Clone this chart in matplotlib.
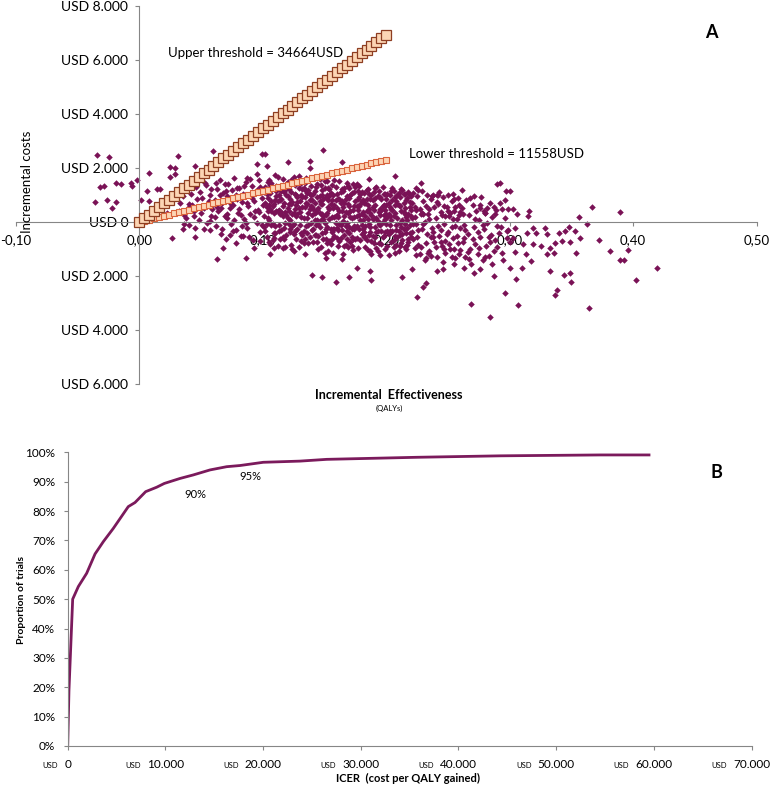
import numpy as np
import matplotlib
matplotlib.use('Agg')
import matplotlib.pyplot as plt
import matplotlib.ticker as ticker

plt.rcParams['font.family'] = ['Lato', 'DejaVu Sans']

# --- panel A: cost-effectiveness plane ---
upper_wtp = 34664   # USD / QALY
lower_wtp = 11558
thr_qaly = np.linspace(0, 0.2, 51)

# sparse points (QALY, USD)
left_pts = [(-0.034,2480),(-0.025,2420),(0.031,2460),(0.008,1830),(-0.029,1330),(-0.032,1300),(-0.015,1400),
            (-0.019,1460),(-0.007,1460),(-0.002,1540),(-0.036,750),(-0.026,800),(-0.019,740),(-0.022,530),
            (-0.006,1330),(0.006,1150),(0.014,1235),(0.017,1235),(0.008,780),(0.001,800),(0.025,2040),
            (0.029,1990),(0.029,1765),(0.025,1670),(0.060,2630),(0.068,2440),(0.045,2070),(0.017,655),
            (0.026,-600),(0.045,-555),(0.063,-1380),(0.086,-1320),(0.068,-950),(0.078,-770),(0.052,-270),
            (0.036,-85),(0.035,-270),(0.022,345),(0.012,345),(0.099,2510),(0.102,2510),(0.095,2140),
            (0.103,2075),(0.087,1640),(0.095,1770),(0.040,655),(0.052,530),(0.044,220),(0.057,40),
            (0.071,160),(0.076,-330),(0.084,-520),(0.093,-950),(0.098,-700),(0.106,-1200),(0.109,-580)]
mid_pts = [(0.149,2655),(0.120,2235),(0.138,2260),(0.164,2235),(0.138,2010),(0.186,1580),(0.207,1705),
           (0.228,1455),(0.224,1270),(0.261,1175),(0.255,840),(0.290,1420),(0.280,345),(0.276,530),
           (0.140,-1975),(0.148,-2035),(0.159,-2210),(0.170,-2035),(0.188,-2160),(0.213,-2035),(0.225,-2780),
           (0.230,-2405),(0.232,-2250),(0.269,-3025),(0.284,-3520),(0.176,-1715),(0.187,-1815),(0.241,-1815),
           (0.246,-1750),(0.221,-1750),(0.255,-1545),(0.263,-1695),(0.276,-1750),(0.287,-2000),(0.271,-1880),
           (0.164,-1380),(0.151,-1320),(0.116,-950),(0.125,-1075),(0.134,-1195)]
right_pts = [(0.367,565),(0.389,380),(0.356,185),(0.363,-85),(0.372,-655),(0.381,-1075),(0.396,-1025),
             (0.389,-1395),(0.393,-1395),(0.419,-1695),(0.402,-2160),(0.364,-3195),(0.307,-3050),(0.337,-2705),
             (0.338,-2495),(0.350,-2210),(0.344,-1975),(0.349,-1880),(0.333,-1815),(0.317,-1445),(0.310,-1715),
             (0.305,-2100),(0.296,-2640),(0.300,-1695),(0.354,-1135),(0.357,-580),(0.353,-335),(0.349,-740),
             (0.342,-705),(0.337,-765),(0.330,-455),(0.340,-395),(0.345,-335),(0.348,-185),(0.319,-235),
             (0.321,-395),(0.329,-235),(0.314,-395),(0.311,-825),(0.319,-825),(0.325,-890),(0.333,-950),
             (0.336,-1135),(0.330,-1195),(0.313,-1175),(0.304,-1100),(0.300,-730),(0.303,-580),(0.298,-335),
             (0.304,-210),(0.315,220),(0.316,405),(0.306,305),(0.296,805),(0.297,1150),(0.300,1150),
             (0.299,470),(0.303,470),(0.292,1455),(0.294,470)]

# dense cloud, estimated (x in 1/1000 QALY, y in USD)
core_pts = [
 (32,420),(35,980),(38,150),(41,1320),(43,640),(45,-210),(47,870),(49,1120),(50,330),(52,560),(53,1450),
 (55,-40),(56,760),(57,1010),(58,240),(59,480),(33,700),(37,1180),(40,-120),(44,390),(46,1290),(48,60),
 (51,900),(54,1380),(57,-280),(60,680),(42,1020),(39,510),(36,260),(58,1220),
 (61,820),(62,-150),(63,1240),(64,390),(65,1560),(66,-430),(67,710),(68,1090),(69,230),(70,-620),(71,960),
 (72,1390),(73,510),(74,-90),(75,1180),(76,640),(77,1620),(78,-310),(79,860),(80,340),(81,1270),(82,-520),
 (83,740),(84,1050),(85,120),(86,1470),(87,-230),(88,590),(89,990),(90,280),(91,1330),(92,-680),(93,770),
 (94,1120),(95,-20),(96,450),(97,1540),(98,-380),(99,900),(100,620),(61,190),(63,560),(65,1010),(67,-260),
 (69,1410),(71,300),(73,-480),(75,830),(77,60),(79,1250),(81,470),(83,-160),(85,1320),(87,710),(89,-550),
 (91,880),(93,180),(95,1190),(97,370),(99,-110),(62,1450),(66,520),(70,1130),(74,680),(78,1000),(82,250),
 (86,-40),(90,1580),(94,410),(98,1290),
 (101,1120),(102,-340),(103,560),(104,1480),(105,90),(106,-820),(107,780),(108,1290),(109,330),(110,-150),
 (111,970),(112,1650),(113,440),(114,-610),(115,1130),(116,210),(117,690),(118,-930),(119,1390),(120,520),
 (121,-70),(122,860),(123,1560),(124,280),(125,-460),(126,1040),(127,620),(128,-240),(129,1270),(130,380),
 (131,-710),(132,910),(133,150),(134,1450),(135,700),(136,-390),(137,1180),(138,480),(139,-20),(140,820),
 (101,240),(103,-560),(104,880),(106,1360),(107,-120),(109,650),(110,1740),(112,-900),(113,1010),(115,-280),
 (116,1590),(118,370),(119,-480),(121,1210),(122,90),(124,750),(125,1670),(127,-640),(128,930),(130,1410),
 (131,180),(133,-330),(134,560),(136,1090),(137,-780),(139,1320),(140,270),(102,710),(105,1540),(108,-670),
 (111,400),(114,1250),(117,-210),(120,980),(123,-840),(126,470),(129,1720),(132,-470),(135,1150),(138,-560),
 (101,-200),(102,1290),(104,410),(105,-720),(107,1460),(108,610),(110,-410),(111,1330),(113,-110),(114,820),
 (116,-540),(117,1110),(119,260),(120,1490),(122,-360),(123,680),(125,-80),(126,1380),(128,310),(129,-930),
 (131,1000),(132,560),(134,-620),(135,1620),(137,350),(138,1050),(140,-310),(103,1030),(106,490),(109,-950),
 (112,770),(115,360),(118,1180),(121,660),(124,-150),(127,1000),(130,-120),(133,1250),(136,150),(139,600),
 (141,1050),(142,-480),(143,380),(144,1420),(145,-90),(146,760),(147,-930),(148,1190),(149,210),(150,-350),
 (151,930),(152,1530),(153,540),(154,-710),(155,1080),(156,170),(157,-1150),(158,640),(159,1310),(160,-220),
 (161,860),(162,420),(163,-590),(164,1220),(165,30),(166,720),(167,-860),(168,1460),(169,330),(170,-410),
 (171,990),(172,150),(173,-1020),(174,610),(175,1280),(176,-160),(177,840),(178,260),(179,-680),(180,1120),
 (141,-260),(142,690),(143,1280),(144,-740),(145,530),(146,1590),(147,90),(148,-420),(149,870),(150,1260),
 (151,-610),(152,340),(153,-1080),(154,960),(155,-270),(156,1380),(157,510),(158,-510),(159,230),(160,1040),
 (161,-870),(162,1500),(163,700),(164,-300),(165,1160),(166,-480),(167,380),(168,-20),(169,1330),(170,590),
 (171,-730),(172,1070),(173,460),(174,-260),(175,790),(176,1400),(177,-950),(178,920),(179,80),(180,-450),
 (141,470),(142,1160),(143,-120),(144,60),(145,-1010),(146,340),(147,1370),(148,650),(149,-640),(150,1510),
 (151,270),(152,-200),(153,810),(154,1240),(155,-830),(156,-380),(157,1010),(158,1570),(159,-40),(160,530),
 (161,180),(162,-690),(163,1120),(164,410),(165,-1200),(166,1260),(167,860),(168,-330),(169,-930),(170,1250),
 (171,420),(172,-550),(173,1390),(174,170),(175,-640),(176,580),(177,1160),(178,-240),(179,680),(180,310),
 (142,90),(144,920),(146,-190),(148,300),(150,-1150),(152,990),(154,130),(156,810),(158,-260),(160,-590),
 (162,860),(164,-40),(166,220),(168,970),(170,-190),(172,-900),(174,1100),(176,-580),(178,1350),(180,-120),
 (181,820),(182,-560),(183,240),(184,1190),(185,-1030),(186,470),(187,-190),(188,990),(189,110),(190,-760),
 (191,630),(192,1280),(193,-340),(194,360),(195,-1220),(196,870),(197,20),(198,-520),(199,1050),(200,280),
 (201,-880),(202,720),(203,-110),(204,1160),(205,430),(206,-650),(207,910),(208,-300),(209,160),(210,-1080),
 (211,590),(212,1220),(213,-450),(214,370),(215,-920),(216,800),(217,60),(218,-610),(219,1010),(220,230),
 (181,-260),(182,690),(183,-920),(184,410),(185,1240),(186,-470),(187,860),(188,-1200),(189,560),(190,1110),
 (191,-200),(192,150),(193,960),(194,-780),(195,500),(196,-320),(197,1300),(198,640),(199,-1010),(200,-90),
 (201,1030),(202,-450),(203,560),(204,-730),(205,1270),(206,210),(207,-1130),(208,760),(209,-560),(210,1090),
 (211,-30),(212,-790),(213,1180),(214,-270),(215,520),(216,-1000),(217,880),(218,310),(219,-390),(220,970),
 (181,370),(182,1080),(183,-130),(184,-650),(185,620),(186,1030),(187,-1060),(188,260),(189,-500),(190,450),
 (191,1250),(192,-960),(193,40),(194,1160),(195,-110),(196,-820),(197,600),(198,250),(199,-380),(200,870),
 (201,180),(202,-1220),(203,1000),(204,90),(205,-330),(206,1150),(207,340),(208,-840),(209,680),(210,-330),
 (211,930),(212,400),(213,-650),(214,1050),(215,-80),(216,190),(217,-850),(218,1120),(219,570),(220,-550),
 (183,690),(187,330),(191,-560),(195,930),(199,460),(203,-340),(207,620),(211,-480),(215,1040),(219,-120),
 (221,720),(222,-640),(223,190),(224,-1230),(225,960),(226,-280),(227,480),(228,-920),(229,1130),(230,-90),
 (231,-1420),(232,610),(233,-460),(234,300),(235,-1060),(236,850),(237,-230),(238,1010),(239,-720),(240,140),
 (241,-1290),(242,670),(243,-520),(244,380),(245,-880),(246,940),(247,-80),(248,-1140),(249,560),(250,-350),
 (251,220),(252,-1010),(253,780),(254,-600),(255,410),(256,-1330),(257,100),(258,-760),(259,640),(260,-210),
 (221,-370),(222,1060),(223,-960),(224,430),(225,-560),(226,1180),(227,-1200),(228,290),(229,-260),(230,780),
 (231,-10),(232,-780),(233,1000),(234,-1150),(235,480),(236,-560),(237,960),(238,-360),(239,550),(240,-940),
 (241,740),(242,-160),(243,1120),(244,-720),(245,260),(246,-1460),(247,600),(248,210),(249,-460),(250,990),
 (251,-800),(252,330),(253,-200),(254,1040),(255,-1000),(256,560),(257,-530),(258,880),(259,-1180),(260,360),
 (223,570),(226,-850),(229,340),(232,-1320),(235,120),(238,-560),(241,1010),(244,-290),(247,-1000),(250,410),
 (253,-1280),(256,-140),(259,270),(224,-60),(230,300),(236,-1250),(242,1000),(248,-700),(254,100),(260,-1030),
 (261,520),(262,-720),(263,-100),(264,-1310),(265,810),(266,-430),(267,260),(268,-980),(269,-1560),(270,630),
 (271,-190),(272,-820),(273,410),(274,-1170),(275,60),(276,-560),(277,940),(278,-1400),(279,-270),(280,350),
 (281,-890),(282,-20),(283,-1250),(284,700),(285,-480),(286,180),(287,-1080),(288,-650),(289,460),(290,-130),
 (262,300),(264,-300),(266,-1100),(268,880),(270,-610),(272,120),(274,-360),(276,620),(278,-120),(280,-1300),
 (282,530),(284,-750),(286,-1550),(288,290),(290,-920),(292,700),(293,-200),(294,-1160),(296,140),(298,-580),
 (263,-580),(267,-1350),(271,970),(275,-950),(279,420),(283,-560),(287,560),(291,-420),(295,-1400),(299,-280),
 # densest part, second pass
 (104,150),(107,420),(110,820),(113,-330),(116,590),(119,1010),(122,-240),(125,350),(128,750),(131,-420),
 (134,920),(137,-120),(140,560),(143,-470),(146,980),(149,120),(152,-780),(155,660),(158,180),(161,-310),
 (164,760),(167,-150),(170,880),(173,-620),(176,240),(179,1030),(182,-350),(185,130),(188,-700),(191,880),
 (194,-80),(197,-560),(200,640),(203,220),(206,-920),(209,1010),(212,-200),(215,300),(218,-720),(221,160),
 (105,640),(108,-80),(111,1150),(114,290),(117,-620),(120,160),(123,1110),(126,-320),(129,520),(132,1220),
 (135,-130),(138,800),(141,-740),(144,440),(147,660),(150,-40),(153,1270),(156,-620),(159,820),(162,-80),
 (165,540),(168,-620),(171,200),(174,-160),(177,430),(180,760),(183,-560),(186,-80),(189,820),(192,-350),
 (195,270),(198,1020),(201,-320),(204,480),(207,-500),(210,620),(213,90),(216,-420),(219,730),(222,-60),
 (103,-90),(106,1070),(109,-400),(112,420),(115,860),(118,-40),(121,420),(124,-1000),(127,240),(130,770),
 (133,-760),(136,650),(139,1000),(142,340),(145,-520),(148,990),(151,-240),(154,480),(157,-240),(160,260),
 (163,-120),(166,-870),(169,650),(172,-250),(175,-200),(178,580),(181,80),(184,860),(187,-380),(190,160),
 (193,-1060),(196,460),(199,110),(202,290),(205,820),(208,-100),(211,-880),(214,690),(217,-220),(220,440)]

# --- panel B: acceptability curve ---
icer_usd = [0, 130, 510, 1090, 1940, 2800, 3650, 4670, 6200, 6890, 7980, 9100, 9890, 11500, 12860,
            14570, 16270, 17640, 20020, 23770, 26510, 35720, 44300, 54480, 59500]
prop_trials = [0.0, 0.19, 0.50, 0.543, 0.588, 0.654, 0.696, 0.741, 0.815, 0.829, 0.866, 0.881, 0.894,
               0.911, 0.923, 0.940, 0.951, 0.955, 0.966, 0.970, 0.976, 0.983, 0.988, 0.991, 0.991]

dot_col = '#7A1256'
grey = '#868686'

sparse = np.array(left_pts + mid_pts + right_pts, dtype=float)
core = np.array(core_pts, dtype=float)
ce_x = np.concatenate([sparse[:, 0], core[:, 0] / 1000.0])
ce_y = np.concatenate([sparse[:, 1], core[:, 1]])

fig = plt.figure(figsize=(7.78, 7.86), dpi=100)

ax = fig.add_axes([16/778, 1 - 384.3/786, 740.5/778, 378.6/786])
ax.scatter(ce_x, ce_y, marker='D', s=11, color=dot_col, linewidths=0, zorder=2)
ax.plot(thr_qaly, thr_qaly * lower_wtp, ls='none', marker='s', ms=5, mfc='#FCD5B4', mec='#D9623B', mew=0.8, zorder=3)
ax.plot(thr_qaly, thr_qaly * upper_wtp, ls='none', marker='s', ms=7.5, mfc='#FCD5B4', mec='#8E3E22', mew=0.9, zorder=4)

ax.set_xlim(-0.1, 0.5)
ax.set_ylim(-6000, 8000)
for s in ['top', 'right']:
    ax.spines[s].set_visible(False)
ax.spines['left'].set_position(('data', 0))
ax.spines['bottom'].set_position(('data', 0))
for s in ['left', 'bottom']:
    ax.spines[s].set_color(grey)
ax.xaxis.set_major_locator(ticker.MultipleLocator(0.1))
ax.yaxis.set_major_locator(ticker.MultipleLocator(2000))
ax.xaxis.set_major_formatter(ticker.FuncFormatter(lambda v, p: f'{v:.2f}'.replace('.', ',')))


def usd_fmt(v, p):
    if abs(v) < 1:
        return 'USD 0'
    return 'USD ' + f'{abs(int(round(v))):,}'.replace(',', '.')


ax.yaxis.set_major_formatter(ticker.FuncFormatter(usd_fmt))
ax.tick_params(axis='y', direction='out', length=3, color=grey, labelsize=10, pad=5)
ax.tick_params(axis='x', direction='out', length=3, color=grey, labelsize=9.5, pad=6)

ax.text(0.0235, 6234, 'Upper threshold = 34664USD', fontsize=9.5, va='center', ha='left')
ax.text(0.2186, 2519, 'Lower threshold = 11558USD', fontsize=9.5, va='center', ha='left')
fig.text(711/778, 1 - 32/786, 'A', fontsize=13, fontweight='bold', ha='center', va='center')
fig.text(27/778, 1 - 182/786, 'Incremental costs', fontsize=9.5, rotation=90, ha='center', va='center')
fig.text(389/778, 1 - 395/786, 'Incremental  Effectiveness', fontsize=9, fontweight='bold', ha='center', va='center')
fig.text(389/778, 1 - 408/786, '(QALYs)', fontsize=5.5, ha='center', va='center')

# panel B
ax2 = fig.add_axes([67.7/778, 1 - 746/786, 683.9/778, 293.7/786])
ax2.plot(icer_usd, prop_trials, color='#7B1A5C', lw=2, solid_joinstyle='round')
ax2.set_xlim(0, 70000)
ax2.set_ylim(0, 1)
for s in ['top', 'right']:
    ax2.spines[s].set_visible(False)
for s in ['left', 'bottom']:
    ax2.spines[s].set_color(grey)
ax2.xaxis.set_major_locator(ticker.MultipleLocator(10000))
ax2.yaxis.set_major_locator(ticker.MultipleLocator(0.1))
ax2.xaxis.set_major_formatter(ticker.FuncFormatter(lambda v, p: f'{int(round(v)):,}'.replace(',', '.')))
ax2.yaxis.set_major_formatter(ticker.FuncFormatter(lambda v, p: f'{int(round(v * 100))}%'))
ax2.tick_params(axis='both', direction='out', length=3, color=grey, labelsize=8.5, pad=6)
ax2.text(13030, 0.857, '90%', fontsize=8, ha='center', va='center')
ax2.text(18730, 0.917, '95%', fontsize=8, ha='center', va='center')
fig.text(716/778, 1 - 473/786, 'B', fontsize=13, fontweight='bold', ha='center', va='center')
fig.text(22/778, 1 - 600/786, 'Proportion of trials', fontsize=7.5, fontweight='bold', rotation=90, ha='center', va='center')
fig.text(408/778, 1 - 778/786, 'ICER  (cost per QALY gained)', fontsize=8, fontweight='bold', ha='center', va='center')

# small "USD" prefix in front of each visible ICER tick label
fig.canvas.draw()
W, H = fig.canvas.get_width_height()
lo, hi = ax2.get_xlim()
for tk in ax2.xaxis.get_major_ticks():
    if not (lo - 1 <= tk.get_loc() <= hi + 1):
        continue
    bb = tk.label1.get_window_extent()
    fig.text((bb.x0 - 6) / W, (bb.y0 + bb.y1) / 2 / H - 1.0 / H, 'USD', fontsize=5.5, ha='right', va='center')

fig.savefig('out.png', dpi=100)
